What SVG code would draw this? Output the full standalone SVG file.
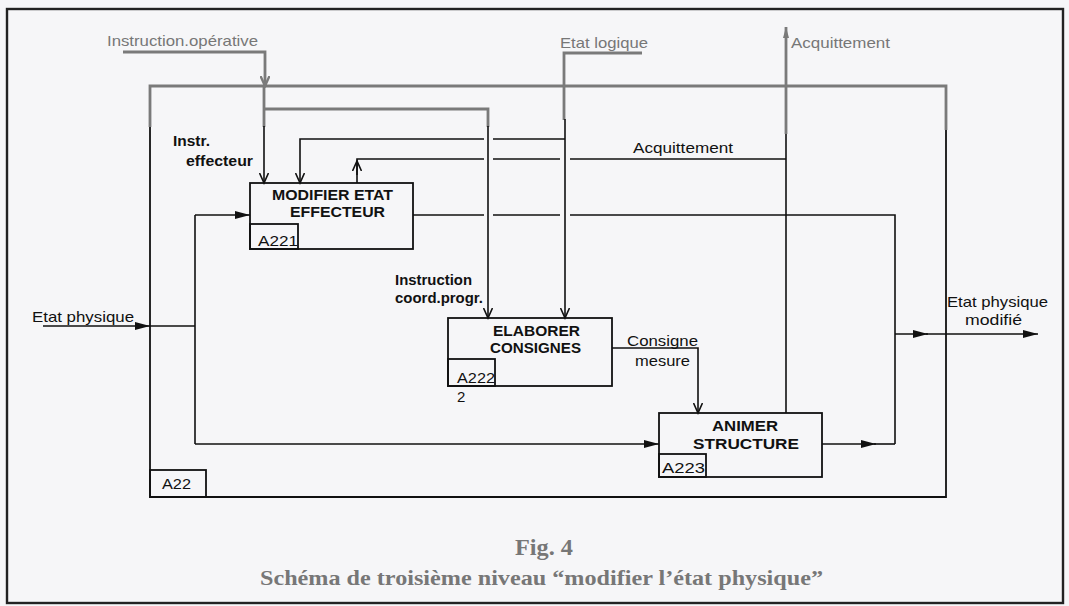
<svg xmlns="http://www.w3.org/2000/svg" width="1069" height="606" viewBox="0 0 1069 606">
<style>
.bx{fill:none;stroke:#111;stroke-width:1.8}
.ln{fill:none;stroke:#111;stroke-width:1.6}
.gl{fill:none;stroke:#7a7a7a;stroke-width:2.8}
.t{font-family:"Liberation Sans",Arial,sans-serif;font-size:15px;fill:#111}
.tb{font-family:"Liberation Sans",Arial,sans-serif;font-size:15px;font-weight:bold;fill:#111}
.tg{font-family:"Liberation Sans",Arial,sans-serif;font-size:15px;fill:#777}
.cap{font-family:"Liberation Serif","Times New Roman",serif;font-weight:bold;fill:#777}
</style>
<defs>
<marker id="af" markerUnits="userSpaceOnUse" markerWidth="16" markerHeight="10" refX="15" refY="5" orient="auto"><path d="M0,1 L15,5 L0,9 z" fill="#111"/></marker>
<marker id="av" markerUnits="userSpaceOnUse" markerWidth="12" markerHeight="10" refX="10" refY="5" orient="auto"><path d="M0,0.5 L10,5 L0,9.5" fill="none" stroke="#111" stroke-width="1.6"/></marker>
<marker id="agv" markerUnits="userSpaceOnUse" markerWidth="12" markerHeight="10" refX="10" refY="5" orient="auto"><path d="M0,0.5 L10,5 L0,9.5" fill="none" stroke="#7a7a7a" stroke-width="2.4"/></marker>
<marker id="agf" markerUnits="userSpaceOnUse" markerWidth="12" markerHeight="8" refX="11" refY="4" orient="auto"><path d="M0,1 L11,4 L0,7 z" fill="#7a7a7a"/></marker>
</defs>
<rect x="0" y="0" width="1069" height="606" fill="#f6f6f8"/>
<rect x="7" y="9" width="1056" height="594" fill="none" stroke="#222" stroke-width="2.4"/>

<g id="A22">
<path class="gl" d="M150,127 V86 H946 V130"/>
<path class="bx" d="M150,127 V497 H946 V130"/>
<rect class="bx" x="150" y="470" width="56" height="27"/>
<text class="t" x="162" y="489" textLength="29" lengthAdjust="spacingAndGlyphs">A22</text>
</g>

<g id="A221">
<rect class="bx" x="250" y="183" width="163" height="66"/>
<rect class="bx" x="250" y="224" width="48" height="25"/>
<text class="tb" x="272" y="200" textLength="121" lengthAdjust="spacingAndGlyphs">MODIFIER ETAT</text>
<text class="tb" x="290" y="217" textLength="95" lengthAdjust="spacingAndGlyphs">EFFECTEUR</text>
<text class="t" x="258" y="246" textLength="40" lengthAdjust="spacingAndGlyphs">A221</text>
</g>

<g id="A222">
<rect class="bx" x="448" y="318" width="164" height="68"/>
<rect class="bx" x="448" y="359" width="47" height="27"/>
<text class="tb" x="493" y="336" textLength="87" lengthAdjust="spacingAndGlyphs">ELABORER</text>
<text class="tb" x="490" y="353" textLength="91" lengthAdjust="spacingAndGlyphs">CONSIGNES</text>
<text class="t" x="457" y="383" textLength="38" lengthAdjust="spacingAndGlyphs">A222</text>
<text class="t" x="457" y="402">2</text>
</g>

<g id="A223">
<rect class="bx" x="659" y="413" width="163" height="64"/>
<rect class="bx" x="659" y="454" width="47" height="23"/>
<text class="tb" x="712" y="431" textLength="66" lengthAdjust="spacingAndGlyphs">ANIMER</text>
<text class="tb" x="693" y="449" textLength="106" lengthAdjust="spacingAndGlyphs">STRUCTURE</text>
<text class="t" x="662" y="473" textLength="43" lengthAdjust="spacingAndGlyphs">A223</text>
</g>

<g id="connectors">
<path class="gl" d="M123,52 H265 V86" marker-end="url(#agv)"/>
<path class="gl" d="M264,86 V127"/>
<path class="ln" d="M264,126 V183" marker-end="url(#av)"/>
<path class="gl" d="M264,109 H488 V127"/>
<path class="ln" d="M488,126 V318" marker-end="url(#av)"/>
<path class="gl" d="M642,53 H564 V120"/>
<path class="ln" d="M565,119 V318" marker-end="url(#av)"/>
<path class="ln" d="M565,139 H493"/>
<path class="ln" d="M484,139 H300 V183" marker-end="url(#av)"/>
<path class="ln" d="M786,413 V133"/>
<path class="gl" d="M786,134 V27" marker-end="url(#agf)"/>
<path class="ln" d="M786,159 H570"/>
<path class="ln" d="M560,159 H493"/>
<path class="ln" d="M484,159 H357 V183"/>
<path class="ln" d="M357,175 V161" marker-end="url(#av)"/>
<path class="ln" d="M413,215 H484"/>
<path class="ln" d="M493,215 H560"/>
<path class="ln" d="M570,215 H895 V444"/>
<path class="ln" d="M822,444 H876" marker-end="url(#af)"/>
<path class="ln" d="M874,444 H895"/>
<path class="ln" d="M895,334 H928" marker-end="url(#af)"/>
<path class="ln" d="M926,334 H1038" marker-end="url(#af)"/>
<path class="ln" d="M43,326 H150" marker-end="url(#af)"/>
<path class="ln" d="M150,326 H195"/>
<path class="ln" d="M195,215 V444"/>
<path class="ln" d="M195,215 H250" marker-end="url(#af)"/>
<path class="ln" d="M195,444 H659" marker-end="url(#af)"/>
<path class="ln" d="M612,348 H698 V413" marker-end="url(#av)"/>
</g>

<g id="labels">
<text class="tg" x="107" y="46" textLength="151" lengthAdjust="spacingAndGlyphs">Instruction.opérative</text>
<text class="tg" x="560" y="48" textLength="88" lengthAdjust="spacingAndGlyphs">Etat logique</text>
<text class="tg" x="791" y="48" textLength="99" lengthAdjust="spacingAndGlyphs">Acquittement</text>
<text class="tb" x="173" y="146" textLength="37" lengthAdjust="spacingAndGlyphs">Instr.</text>
<text class="tb" x="186" y="166" textLength="67" lengthAdjust="spacingAndGlyphs">effecteur</text>
<text class="t" x="633" y="153" textLength="100" lengthAdjust="spacingAndGlyphs">Acquittement</text>
<text class="tb" x="395" y="285" textLength="77" lengthAdjust="spacingAndGlyphs">Instruction</text>
<text class="tb" x="395" y="303" textLength="88" lengthAdjust="spacingAndGlyphs">coord.progr.</text>
<text class="t" x="627" y="346" textLength="71" lengthAdjust="spacingAndGlyphs">Consigne</text>
<text class="t" x="635" y="366" textLength="55" lengthAdjust="spacingAndGlyphs">mesure</text>
<text class="t" x="947" y="307" textLength="101" lengthAdjust="spacingAndGlyphs">Etat physique</text>
<text class="t" x="965" y="325" textLength="57" lengthAdjust="spacingAndGlyphs">modifié</text>
<text class="t" x="32" y="322" textLength="102" lengthAdjust="spacingAndGlyphs">Etat physique</text>
<text class="cap" x="515" y="555" font-size="24" textLength="58" lengthAdjust="spacingAndGlyphs">Fig. 4</text>
<text class="cap" x="260" y="585" font-size="22" textLength="563" lengthAdjust="spacingAndGlyphs">Schéma de troisième niveau “modifier l’état physique”</text>
</g>
</svg>
